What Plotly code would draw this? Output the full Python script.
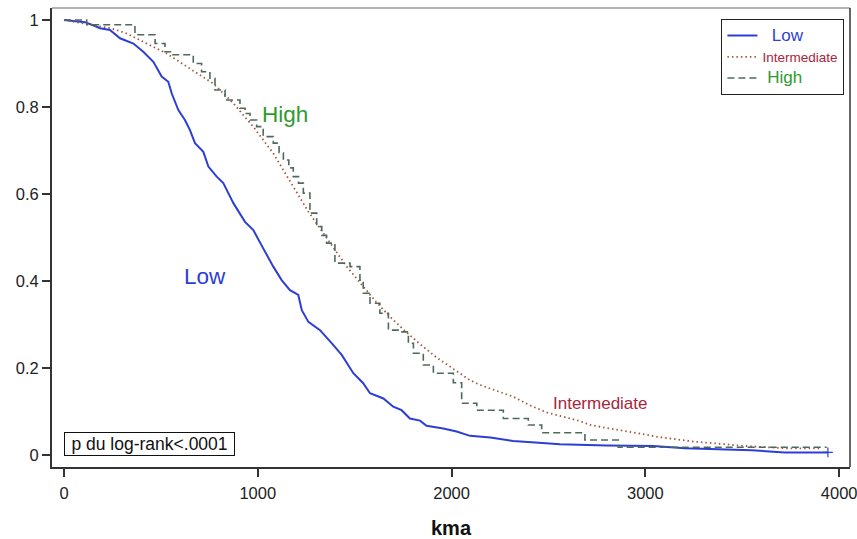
import plotly.graph_objects as go

# ---- data ----
low_t = [0, 108, 150, 186, 237, 289, 358, 409, 461, 504, 538, 556, 590, 624, 650, 676, 719, 745,
         788, 822, 857, 874, 934, 977, 1028, 1080, 1123, 1166, 1209, 1227, 1261, 1321, 1381, 1433,
         1493, 1544, 1579, 1648, 1699, 1742, 1785, 1837, 1871, 1957, 2026, 2095, 2200, 2318, 2450,
         2559, 2800, 3040, 3204, 3548, 3720, 3942]
low_s = [1.0, 0.995, 0.988, 0.981, 0.977, 0.958, 0.946, 0.927, 0.904, 0.870, 0.858, 0.831, 0.793,
         0.770, 0.747, 0.717, 0.697, 0.663, 0.640, 0.625, 0.594, 0.579, 0.536, 0.517, 0.475, 0.433,
         0.402, 0.379, 0.368, 0.333, 0.306, 0.287, 0.257, 0.230, 0.188, 0.165, 0.142, 0.130, 0.111,
         0.103, 0.084, 0.079, 0.067, 0.061, 0.054, 0.044, 0.040, 0.032, 0.028, 0.0245, 0.022, 0.0207,
         0.0153, 0.0107, 0.006, 0.006]

int_t = [0, 134, 250, 323, 430, 530, 633, 770, 873, 976, 1079, 1182, 1260, 1338, 1400, 1459, 1545,
         1610, 1682, 1760, 1837, 1920, 2009, 2095, 2147, 2230, 2318, 2400, 2490, 2559, 2663, 2714,
         2800, 2903, 3075, 3247, 3400, 3505, 3729, 3900]
int_s = [1.0, 0.989, 0.980, 0.969, 0.945, 0.923, 0.893, 0.854, 0.809, 0.755, 0.694, 0.617, 0.560,
         0.510, 0.470, 0.433, 0.387, 0.352, 0.318, 0.285, 0.255, 0.225, 0.198, 0.172, 0.161, 0.148,
         0.134, 0.115, 0.098, 0.090, 0.078, 0.069, 0.062, 0.054, 0.041, 0.031, 0.025, 0.021, 0.0153,
         0.0153]

high_t = [0, 117, 366, 470, 521, 556, 667, 710, 753, 779, 831, 908, 934, 960, 994, 1028, 1080, 1110,
          1132, 1160, 1183, 1210, 1235, 1269, 1304, 1330, 1355, 1398, 1476, 1527, 1544, 1579, 1630,
          1674, 1734, 1777, 1803, 1854, 1906, 2009, 2052, 2130, 2267, 2396, 2465, 2688, 2860, 3936]
high_s = [1.0, 0.989, 0.966, 0.946, 0.927, 0.920, 0.900, 0.881, 0.866, 0.839, 0.816, 0.797, 0.785,
          0.770, 0.755, 0.732, 0.717, 0.695, 0.678, 0.660, 0.640, 0.625, 0.602, 0.556, 0.525, 0.505,
          0.487, 0.441, 0.433, 0.402, 0.372, 0.349, 0.326, 0.287, 0.283, 0.257, 0.234, 0.207, 0.188,
          0.166, 0.119, 0.103, 0.084, 0.069, 0.051, 0.0345, 0.0177, 0.0177]

x_ticks = [0, 1000, 2000, 3000, 4000]
y_ticks = [0, 0.2, 0.4, 0.6, 0.8, 1]
y_ticklabels = ["0", "0.2", "0.4", "0.6", "0.8", "1"]

BLUE = "#2d3fd3"
INT_LINE = "#a0583c"
INT_TEXT = "#a8263c"
HIGH_LINE = "#4d6b5c"
HIGH_TEXT = "#2f9a2f"
FONT = "Liberation Sans, Arial, sans-serif"

fig = go.Figure()
fig.add_trace(go.Scatter(
    x=low_t, y=low_s, mode="lines", line=dict(color=BLUE, width=2),
    name=f"<span style='color:{BLUE};font-size:17px'>&nbsp;&nbsp;Low</span>"))
fig.add_trace(go.Scatter(
    x=int_t, y=int_s, mode="lines", line=dict(color=INT_LINE, width=1.8, dash="1.5px,3px"),
    name=f"<span style='color:{INT_TEXT};font-size:13.5px'>Intermediate</span>"))
fig.add_trace(go.Scatter(
    x=high_t, y=high_s, mode="lines", line=dict(color=HIGH_LINE, width=1.6, shape="hv", dash="7px,4px"),
    name=f"<span style='color:{HIGH_TEXT};font-size:17px'>&nbsp;High</span>"))
# censor mark at the end of the Low curve
fig.add_trace(go.Scatter(
    x=[low_t[-1]], y=[low_s[-1]], mode="markers", showlegend=False,
    marker=dict(symbol="cross-thin", size=7, line=dict(color=BLUE, width=1.2))))

fig.add_annotation(x=1140, y=0.783, text="High", showarrow=False,
                   font=dict(family=FONT, size=22.5, color=HIGH_TEXT))
fig.add_annotation(x=730, y=0.41, text="Low", showarrow=False,
                   font=dict(family=FONT, size=22.5, color=BLUE))
fig.add_annotation(x=2771, y=0.118, text="Intermediate", showarrow=False,
                   font=dict(family=FONT, size=17, color=INT_TEXT))
fig.add_annotation(x=(64 - 52) / 798, xref="paper", y=-0.002, yref="y", xanchor="left", yanchor="bottom",
                   text="p du log-rank<.0001", showarrow=False, width=167, height=20,
                   font=dict(family=FONT, size=17.5, color="#111"),
                   bordercolor="#111", borderwidth=1, borderpad=1, bgcolor="white")

# frame: top (gray) and right (dark)
fig.add_shape(type="line", xref="paper", yref="paper", x0=0, x1=1, y0=1, y1=1,
              line=dict(color="#999999", width=1.5))
fig.add_shape(type="line", xref="paper", yref="paper", x0=1, x1=1, y0=0, y1=1,
              line=dict(color="#333333", width=1.5))

fig.update_layout(
    width=857, height=539,
    margin=dict(l=52, r=7, t=8, b=72, autoexpand=False),
    paper_bgcolor="white", plot_bgcolor="white",
    font=dict(family=FONT, size=16.5, color="#222"),
    showlegend=True,
    legend=dict(x=0.993, xanchor="right", y=0.976, yanchor="top",
                bordercolor="#222", borderwidth=1, bgcolor="white",
                font=dict(family=FONT, size=14), tracegroupgap=0,
                itemwidth=30),
    xaxis=dict(range=[-62, 4056], tickvals=x_ticks, ticks="outside", ticklen=8, automargin=False,
               tickcolor="#333", tickwidth=1.5, showline=True, linecolor="#333", linewidth=2,
               showgrid=False, zeroline=False, tickfont=dict(size=16.5, color="#222"),
               ticklabelstandoff=2, ticklabeloverflow="allow",
               title=dict(text="<b>kma</b>", font=dict(size=20, color="#111"), standoff=20)),
    yaxis=dict(range=[-0.0276, 1.0276], tickvals=y_ticks, ticktext=y_ticklabels, ticks="outside",
               ticklen=8, tickcolor="#333", tickwidth=1.5, showline=True, linecolor="#333",
               automargin=False, linewidth=2, showgrid=False, zeroline=False,
               tickfont=dict(size=16.5, color="#222")),
)

fig.write_html("out.html", config={"displayModeBar": False},
               post_script="document.body.style.margin='0';document.body.style.padding='0';")
